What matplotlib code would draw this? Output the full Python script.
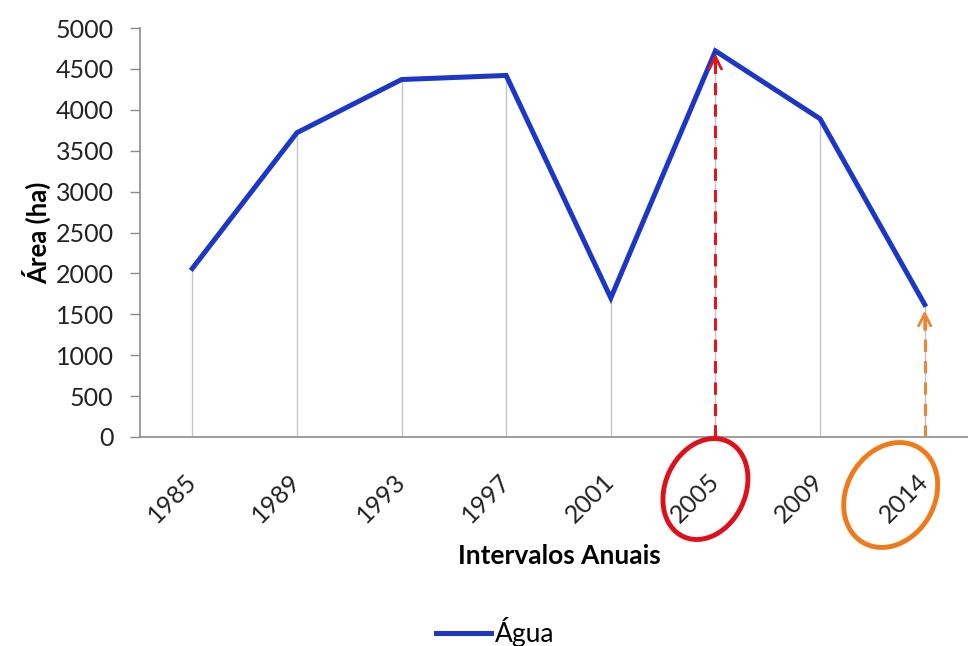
import matplotlib.pyplot as plt
import matplotlib.transforms as mtransforms
from matplotlib.patches import Ellipse

plt.rcParams['font.family'] = ['Lato', 'DejaVu Sans']

# data
years = ['1985', '1989', '1993', '1997', '2001', '2005', '2009', '2014']
area = [2060, 3720, 4370, 4420, 1700, 4720, 3890, 1620]
y_ticks = list(range(0, 5001, 500))

fig = plt.figure(figsize=(9.68, 6.46), dpi=100)
ax = fig.add_axes([140/968, 1 - 437/646, 837/968, 409/646])

x = list(range(len(years)))

# grey drop lines from each point to the axis
ax.vlines(x, 0, area, color='#c4c4c4', lw=1, zorder=1)
ax.plot(x, area, color='#1c36c8', lw=3.6, label='Água', zorder=3,
        solid_joinstyle='miter')

ax.set_xlim(-0.5, len(years) - 0.5)
ax.set_ylim(0, 5000)
ax.set_yticks(y_ticks)
ax.set_xticks(x)
ax.set_xticklabels(years, rotation=45, ha='right', va='center',
                   rotation_mode='anchor')
ax.tick_params(axis='x', length=0, pad=29, labelsize=18, colors='#222222')
ax.tick_params(axis='y', length=7, width=1, color='#8c8c8c', labelsize=18,
               labelcolor='#222222', pad=12)
for s in ['top', 'right']:
    ax.spines[s].set_visible(False)
for s in ['left', 'bottom']:
    ax.spines[s].set_color('#8c8c8c')
    ax.spines[s].set_linewidth(1.2)

ax.set_ylabel('Área (ha)', fontsize=18.5, fontweight='bold', labelpad=3)
fig.text(559/968, 1 - 556/646, 'Intervalos Anuais', fontsize=19,
         fontweight='bold', ha='center', va='center')

# highlight arrows
i05 = years.index('2005')
i14 = years.index('2014')
ax.vlines(i05, 0, area[i05] - 60, color='#e0161c', lw=2.2,
          linestyles=(0, (4, 3)), zorder=4)
ax.annotate('', xy=(i05, area[i05]), xytext=(i05, area[i05] - 300),
            arrowprops=dict(arrowstyle='->', color='#e0161c', lw=2,
                            mutation_scale=22), zorder=4)
tip14 = area[i14] - 40
ax.vlines(i14, 0, tip14 - 60, color='#ee8434', lw=2.2,
          linestyles=(0, (4, 3)), zorder=4)
ax.annotate('', xy=(i14, tip14), xytext=(i14, tip14 - 300),
            arrowprops=dict(arrowstyle='->', color='#ee8434', lw=2,
                            mutation_scale=22), zorder=4)


# circles around the highlighted tick labels, sized in inches,
# offset from the tick position on the x axis
def ring(idx, dx_px, dy_px, major_px, minor_px, angle, color):
    base = mtransforms.blended_transform_factory(ax.transData, ax.transAxes)
    tr = fig.dpi_scale_trans + mtransforms.ScaledTranslation(idx, 0, base)
    e = Ellipse((dx_px / 100, -dy_px / 100), major_px / 100, minor_px / 100,
                angle=angle, transform=tr, fill=False, ec=color, lw=3.5,
                clip_on=False)
    fig.add_artist(e)


ring(i05, -10, 52, 105, 80, 65, '#e0101a')
ring(i14, -34, 58, 110, 88, 60, '#f07a1a')

fig.legend(loc='center', bbox_to_anchor=(495/968, 1 - 632/646), frameon=False,
           fontsize=19, handlelength=2.1, handletextpad=0.15)

fig.savefig('out.png', dpi=100)
